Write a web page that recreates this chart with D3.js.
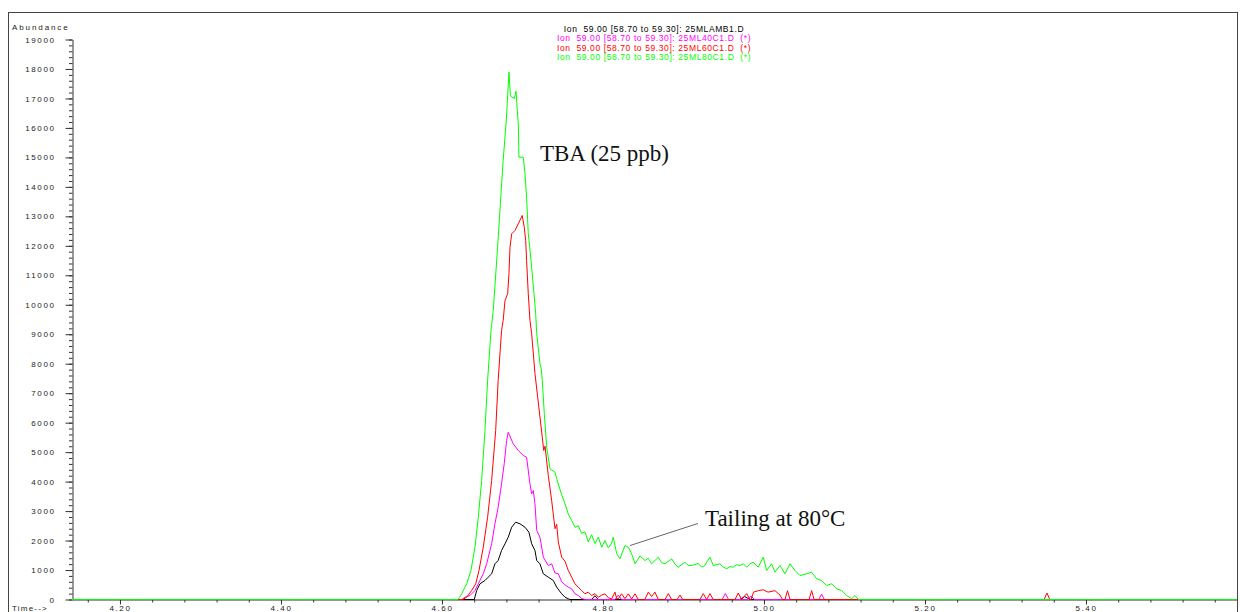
<!DOCTYPE html>
<html>
<head>
<meta charset="utf-8">
<script src="https://cdn.jsdelivr.net/npm/d3@7"></script>
<style>
  body { margin: 0; background: #fff; }
  svg { display: block; font-family: "Liberation Sans", Arial, sans-serif; }
  .legend text { white-space: pre; }
</style>
</head>
<body>
<div class="canvas"></div>
<script>
// tick labels
const timeTicks = [4.20, 4.40, 4.60, 4.80, 5.00, 5.20, 5.40]
const abundanceTicks = [0, 1000, 2000, 3000, 4000, 5000, 6000, 7000, 8000, 9000,
  10000, 11000, 12000, 13000, 14000, 15000, 16000, 17000, 18000, 19000]

const legendLabels = [
  'Ion  59.00 [58.70 to 59.30]: 25MLAMB1.D',
  'Ion  59.00 [58.70 to 59.30]: 25ML40C1.D  (*)',
  'Ion  59.00 [58.70 to 59.30]: 25ML60C1.D  (*)',
  'Ion  59.00 [58.70 to 59.30]: 25ML80C1.D  (*)'
]

// [time (min), abundance]
const ambientSeries = [
  [4.1404, 0], [4.6401, 0], [4.6431, 305], [4.6472, 533], [4.6534, 645], [4.6574, 757],
  [4.6617, 872], [4.6658, 1211], [4.6698, 1323], [4.6740, 1663], [4.6783, 1890],
  [4.6823, 2114], [4.6866, 2453], [4.6915, 2623], [4.6969, 2568], [4.7031, 2453],
  [4.7080, 2284], [4.7114, 1890], [4.7155, 1663], [4.7177, 1323], [4.7217, 1211],
  [4.7259, 872], [4.7321, 757], [4.7383, 645], [4.7425, 417], [4.7487, 193],
  [4.7528, 78], [4.7569, 24], [4.7590, 0], [4.7860, 0], [4.7900, 130], [4.7940, 0],
  [4.9700, 0], [4.9760, 100], [4.9830, 0], [5.5876, 0]
]

const c40Series = [
  [4.1404, 0], [4.6245, 0], [4.6286, 78], [4.6348, 136], [4.6410, 305], [4.6451, 533],
  [4.6513, 872], [4.6555, 1211], [4.6617, 1890], [4.6658, 2568], [4.6698, 3132],
  [4.6740, 3926], [4.6773, 4604], [4.6803, 5395], [4.6823, 5677], [4.6885, 5283],
  [4.6948, 5056], [4.7010, 4886], [4.7051, 4828], [4.7093, 3926], [4.7114, 3586],
  [4.7134, 3698], [4.7155, 3247], [4.7177, 2341], [4.7217, 2114], [4.7259, 1435],
  [4.7321, 1150], [4.7363, 1211], [4.7404, 900], [4.7445, 872], [4.7487, 600],
  [4.7528, 500], [4.7569, 417], [4.7611, 363], [4.7652, 193], [4.7693, 136],
  [4.7735, 34], [4.7776, 0], [4.8150, 0], [4.8190, 150], [4.8230, 0],
  [4.9480, 0], [4.9520, 200], [4.9560, 0], [4.9800, 0], [4.9840, 120], [4.9880, 0],
  [5.0680, 0], [5.0716, 180], [5.0750, 0], [5.5876, 0]
]

const c60Series = [
  [4.1404, 0], [4.6261, 0], [4.6307, 78], [4.6369, 305], [4.6419, 533], [4.6460, 984],
  [4.6513, 1775], [4.6567, 2792], [4.6617, 4038], [4.6667, 5734], [4.6698, 7431],
  [4.6740, 9127], [4.6760, 9466], [4.6783, 10146], [4.6816, 10373], [4.6832, 11051],
  [4.6845, 11954], [4.6866, 12408], [4.6907, 12520], [4.6948, 12748], [4.6997, 13029],
  [4.7022, 12632], [4.7040, 12181], [4.7051, 11503], [4.7072, 10373], [4.7093, 9466],
  [4.7114, 9015], [4.7155, 7668], [4.7189, 6864], [4.7246, 5507], [4.7264, 5056],
  [4.7280, 5200], [4.7321, 4200], [4.7363, 3350], [4.7404, 2400], [4.7425, 2550],
  [4.7445, 1950], [4.7487, 1435], [4.7528, 1300], [4.7569, 984], [4.7611, 757],
  [4.7652, 533], [4.7693, 417], [4.7735, 305], [4.7776, 193], [4.7817, 250],
  [4.7859, 136], [4.7901, 200], [4.7942, 78], [4.7984, 150], [4.8025, 193],
  [4.8066, 60], [4.8107, 20], [4.8149, 250], [4.8170, 30], [4.8190, 20],
  [4.8231, 193], [4.8273, 30], [4.8314, 193], [4.8356, 20], [4.8398, 193],
  [4.8438, 0], [4.8520, 0], [4.8563, 250], [4.8604, 100], [4.8645, 250], [4.8687, 0],
  [4.8770, 0], [4.8812, 200], [4.8853, 0], [4.8920, 0], [4.8957, 150], [4.8990, 0],
  [4.9205, 0], [4.9246, 200], [4.9288, 0], [4.9329, 200], [4.9370, 0],
  [4.9640, 0], [4.9680, 220], [4.9722, 0], [4.9785, 200], [4.9826, 0],
  [4.9840, 0], [4.9870, 250], [4.9929, 300], [4.9991, 330], [5.0050, 250],
  [5.0137, 300], [5.0199, 150], [5.0230, 0], [5.0261, 0], [5.0292, 300], [5.0323, 0],
  [5.0560, 0], [5.0592, 300], [5.0623, 0], [5.3480, 0], [5.3516, 220], [5.3550, 0],
  [5.5876, 0]
]

const c80Series = [
  [4.1404, 0], [4.6200, 0], [4.6245, 193], [4.6307, 533], [4.6360, 984], [4.6410, 1775],
  [4.6451, 2792], [4.6493, 4038], [4.6534, 5734], [4.6567, 7431], [4.6609, 9127],
  [4.6637, 9806], [4.6691, 11954], [4.6760, 14895], [4.6800, 16300], [4.6832, 17891],
  [4.6850, 17100], [4.6866, 17043], [4.6900, 17000], [4.6919, 17247], [4.6948, 16141],
  [4.6956, 15007], [4.7010, 15007], [4.7031, 14454], [4.7051, 13650], [4.7072, 12418],
  [4.7106, 11503], [4.7143, 10383], [4.7164, 9704], [4.7177, 9015], [4.7217, 8007],
  [4.7235, 7800], [4.7246, 7431], [4.7271, 6311], [4.7301, 5168], [4.7342, 4430],
  [4.7404, 4320], [4.7425, 4100], [4.7487, 3550], [4.7528, 3250], [4.7569, 2900],
  [4.7611, 2680], [4.7652, 2450], [4.7693, 2500], [4.7735, 2240], [4.7776, 2300],
  [4.7817, 1950], [4.7859, 2200], [4.7901, 1900], [4.7942, 2114], [4.7984, 1775],
  [4.8025, 2000], [4.8066, 1750], [4.8107, 1900], [4.8127, 2114], [4.8170, 1561],
  [4.8211, 1381], [4.8273, 1832], [4.8314, 1775], [4.8356, 1551], [4.8398, 1211],
  [4.8460, 1480], [4.8522, 1323], [4.8563, 1400], [4.8604, 1211], [4.8687, 1435],
  [4.8728, 1250], [4.8770, 1211], [4.8853, 1381], [4.8894, 1200], [4.8935, 1096],
  [4.9019, 1266], [4.9060, 1150], [4.9102, 1154], [4.9184, 1221], [4.9226, 1100],
  [4.9267, 1154], [4.9288, 1266], [4.9329, 1435], [4.9370, 1154], [4.9453, 1211],
  [4.9495, 1100], [4.9537, 1042], [4.9578, 1120], [4.9619, 1096], [4.9661, 1180],
  [4.9702, 1154], [4.9743, 1211], [4.9785, 1096], [4.9826, 1211], [4.9867, 1266],
  [4.9929, 1096], [4.9991, 1435], [5.0033, 984], [5.0095, 1211], [5.0137, 926],
  [5.0199, 1154], [5.0261, 872], [5.0323, 1211], [5.0385, 984], [5.0447, 814],
  [5.0530, 872], [5.0592, 926], [5.0654, 702], [5.0716, 645], [5.0778, 475],
  [5.0840, 533], [5.0902, 363], [5.0964, 305], [5.1027, 136], [5.1089, 25],
  [5.1130, 136], [5.1171, 0], [5.5876, 0]
]

const annotations = [
  {text: 'TBA (25 ppb)', time: 4.7217, abundance: 14880},
  {text: 'Tailing at 80°C', time: 4.9267, abundance: 2480}
]
const pointer = [[4.9180, 2580], [4.8335, 1830]]

const width = 1240
const height = 612

const svg = d3.select('.canvas')
  .append('svg')
  .attr('width', width)
  .attr('height', height)

const x = d3.scaleLinear()
  .domain([4.1404, 5.5876])
  .range([72, 1237])

const y = d3.scaleLinear()
  .domain([0, 19000])
  .range([599.5, 39.5])

// outer frame
svg.append('rect')
  .attr('x', 8.5)
  .attr('y', 12.5)
  .attr('width', 1229)
  .attr('height', 700)
  .attr('fill', 'none')
  .attr('stroke', '#444')

const tickStyle = g => {
  g.selectAll('line').attr('stroke', '#333')
  g.select('.domain').attr('stroke', '#333')
  g.selectAll('text')
    .attr('fill', '#222')
    .attr('font-size', 8)
    .attr('letter-spacing', 1.6)
}

// y axis: minor ticks every 200, then labelled ticks
svg.append('g')
  .attr('transform', 'translate(72.5,0)')
  .call(d3.axisLeft(y).tickValues(d3.range(0, 19001, 200)).tickSize(3.5).tickFormat(''))
  .call(g => g.select('.domain').remove())
  .call(tickStyle)

svg.append('g')
  .attr('transform', 'translate(72.5,0)')
  .call(d3.axisLeft(y).tickValues(abundanceTicks).tickSize(7).tickPadding(10).tickSizeOuter(0)
    .tickFormat(d => d))
  .call(tickStyle)

// x axis
svg.append('g')
  .attr('transform', 'translate(0,599.5)')
  .call(d3.axisBottom(x).tickValues(d3.range(4.16, 5.59, 0.04)).tickSize(3).tickFormat(''))
  .call(g => g.select('.domain').remove())
  .call(tickStyle)

svg.append('g')
  .attr('transform', 'translate(0,599.5)')
  .call(d3.axisBottom(x).tickValues(timeTicks).tickSize(5).tickPadding(0.5).tickSizeOuter(0)
    .tickFormat(d3.format('.2f')))
  .call(tickStyle)

svg.append('text')
  .attr('x', 12)
  .attr('y', 30)
  .attr('font-size', 8)
  .attr('letter-spacing', 1.9)
  .attr('fill', '#222')
  .text('Abundance')

svg.append('text')
  .attr('x', 12)
  .attr('y', 610.5)
  .attr('font-size', 8)
  .attr('letter-spacing', 1.2)
  .attr('fill', '#222')
  .text('Time-->')

const series = [
  {data: ambientSeries, color: '#000000'},
  {data: c40Series, color: '#ff00ff'},
  {data: c60Series, color: '#ff0000'},
  {data: c80Series, color: '#00ff00'}
]

const line = d3.line()
  .x(d => x(d[0]))
  .y(d => y(d[1]))

svg.append('g')
  .selectAll('path')
  .data(series)
  .enter().append('path')
  .attr('d', d => line(d.data))
  .attr('fill', 'none')
  .attr('stroke', d => d.color)
  .attr('stroke-width', 1)

svg.append('g')
  .attr('class', 'legend')
  .selectAll('text')
  .data(legendLabels)
  .enter().append('text')
  .attr('x', 654)
  .attr('y', (d, i) => 32 + i * 9.3)
  .attr('text-anchor', 'middle')
  .attr('font-size', 8.5)
  .attr('letter-spacing', 0.6)
  .attr('fill', (d, i) => series[i].color)
  .text(d => d)

svg.append('line')
  .attr('x1', x(pointer[0][0]))
  .attr('y1', y(pointer[0][1]))
  .attr('x2', x(pointer[1][0]))
  .attr('y2', y(pointer[1][1]))
  .attr('stroke', '#666')
  .attr('stroke-width', 1)

svg.append('g')
  .selectAll('text')
  .data(annotations)
  .enter().append('text')
  .attr('x', d => x(d.time))
  .attr('y', d => y(d.abundance))
  .attr('font-family', '"Liberation Serif", "Times New Roman", serif')
  .attr('font-size', 23)
  .attr('fill', '#111')
  .text(d => d.text)
</script>
</body>
</html>
